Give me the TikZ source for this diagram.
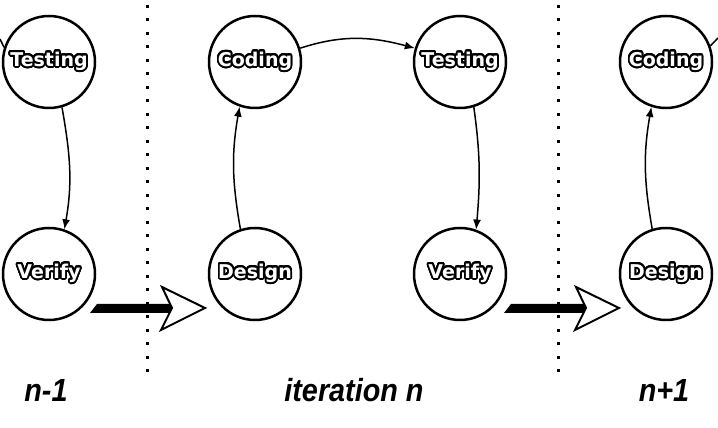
\documentclass[tikz,border=0pt]{standalone}
\usepackage{fontspec}
\usepackage{contour}
\setsansfont{Liberation Sans}
\newfontfamily\nodefamily{DejaVu Sans}
\usetikzlibrary{arrows.meta}
\contourlength{1.8pt}
\contournumber{32}
\newcommand{\otext}[1]{{\color{white}\contour{black}{#1}}}
\begin{document}
\begin{tikzpicture}[x=1pt,y=1pt,
  circ/.style={circle,draw,line width=2.5pt,minimum size=92pt,inner sep=0pt,
    font=\nodefamily\bfseries\fontsize{19}{21}\selectfont},
  arr/.style={-{Latex[length=10pt,width=8pt]},line width=1.5pt},
  sepline/.style={line width=3pt,dash pattern=on 3pt off 10.5pt},
  lab/.style={font=\sffamily\bfseries\itshape\fontsize{32}{36}\selectfont,xscale=0.9,anchor=base},
  bighead/.style={fill=white,draw=black,line width=2pt,line join=miter}]
\useasboundingbox (0,0) rectangle (718,428);

% separators
\coordinate (s1a) at (147,423); \coordinate (s1b) at (147,56);
\coordinate (s2a) at (558,423); \coordinate (s2b) at (558,56);
\draw[sepline] (s1a) -- (s1b);
\draw[sepline] (s2a) -- (s2b);

% nodes
\node[circ] (T0) at (49,366) {\otext{Testing}};
\node[circ] (V0) at (49,154) {\otext{Verify}};
\node[circ] (C1) at (255,366) {\otext{Coding}};
\node[circ] (D1) at (255,154) {\otext{Design}};
\node[circ] (T1) at (460,366) {\otext{Testing}};
\node[circ] (V1) at (460,154) {\otext{Verify}};
\node[circ] (C2) at (666,366) {\otext{Coding}};
\node[circ] (D2) at (666,154) {\otext{Design}};

% connectors
\draw[arr] (T0.-74) to[out=-80,in=80] (V0.71);
\draw[arr] (D1.108) to[out=100,in=-100] (C1.-109);
\draw[arr] (C1.17) to[out=18,in=165] (T1.163);
\draw[arr] (T1.-73) to[out=-82,in=85] (V1.70);
\draw[arr] (D2.107) to[out=100,in=-100] (C2.-108);

% stubs at the edges
\coordinate (inL) at (0,389);
\draw[line width=1.5pt] (inL) -- (T0.162);
\coordinate (outR) at (718,390);
\draw[line width=1.5pt] (C2.20) -- (outR);

% big transition arrows
\foreach \dx in {0,414}{
  \begin{scope}[shift={(\dx,0)}]
    \fill (90,115) -- (97,124) -- (172,124) -- (172,115) -- cycle;
    \draw[bighead] (162,141) -- (205,120) -- (161,98) -- (172,120) -- cycle;
  \end{scope}
}

% labels
\node[lab] (L1) at (46,26) {n-1};
\node[lab] (L2) at (354,26) {iteration n};
\node[lab] (L3) at (664,26) {n+1};
\end{tikzpicture}
\end{document}
